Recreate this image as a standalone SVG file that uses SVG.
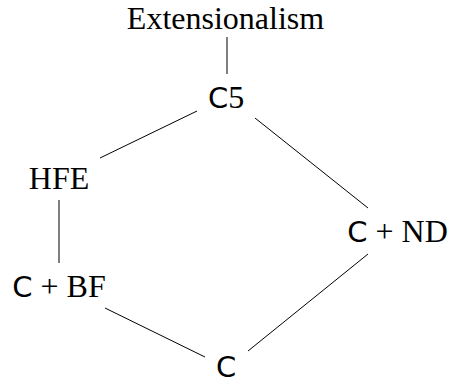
<svg xmlns="http://www.w3.org/2000/svg" width="449" height="385" viewBox="0 0 449 385">
<style>
text{font-family:"Liberation Serif","Times New Roman",serif;font-size:32px;fill:#000;text-anchor:middle}
.s{font-family:"DejaVu Sans","Liberation Sans",sans-serif;font-size:29px}
line{stroke:#000;stroke-width:1}
</style>
<rect width="449" height="385" fill="#fff"/>
<g id="connectors">
<line x1="227" y1="37" x2="227" y2="74"/>
<line x1="197" y1="111" x2="100" y2="158"/>
<line x1="255" y1="118" x2="368" y2="208"/>
<line x1="59" y1="200" x2="59" y2="263"/>
<line x1="105" y1="308" x2="205" y2="357"/>
<line x1="248" y1="351" x2="368" y2="254"/>
</g>
<g id="n-ext"><text x="225.5" y="29">Extensionalism</text></g>
<g id="n-c5"><text x="226" y="108"><tspan class="s">C</tspan>5</text></g>
<g id="n-hfe"><text x="59" y="189">HFE</text></g>
<g id="n-cbf"><text x="59" y="297"><tspan class="s">C</tspan> + BF</text></g>
<g id="n-cnd"><text x="397.5" y="242"><tspan class="s">C</tspan> + ND</text></g>
<g id="n-c"><text x="226" y="377"><tspan class="s">C</tspan></text></g>
</svg>
